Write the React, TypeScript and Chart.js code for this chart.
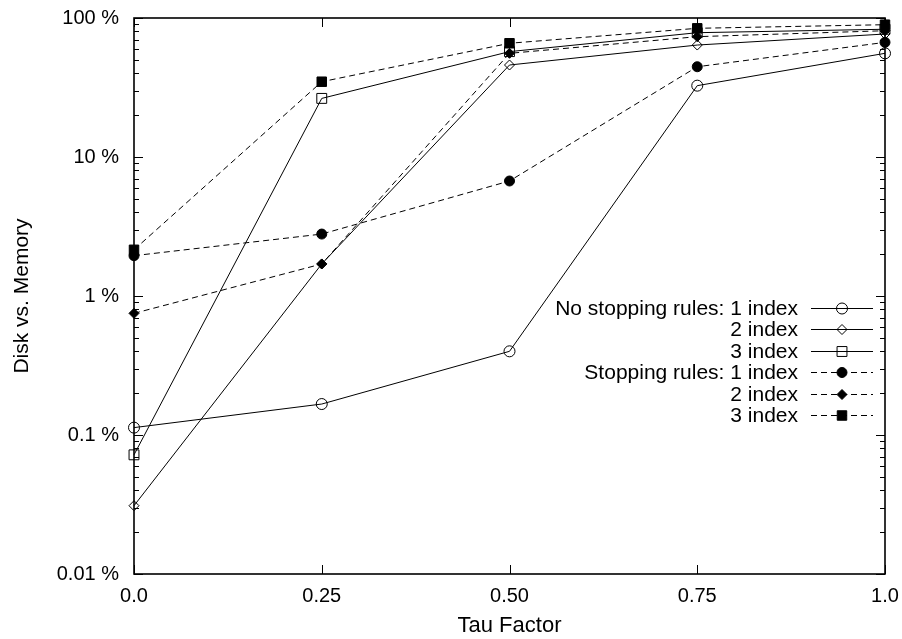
import React, { useEffect, useRef } from 'react';
import { Chart, registerables } from 'chart.js';
import { drawPoint } from 'chart.js/helpers';

Chart.register(...registerables);

// ---- data ----
const tauFactor = [0, 0.25, 0.5, 0.75, 1.0];
const noStop1 = [0.113, 0.167, 0.4, 32.6, 55.7];
const noStop2 = [0.031, 1.7, 45.9, 63.9, 76.7];
const noStop3 = [0.072, 26.4, 57.3, 78.4, 83.0];
const stop1 = [1.95, 2.79, 6.72, 44.6, 66.8];
const stop2 = [0.75, 1.7, 55.7, 73.4, 81.0];
const stop3 = [2.15, 34.8, 65.8, 84.3, 89.5];

const legendLabels = [
  'No stopping rules: 1 index',
  '2 index',
  '3 index',
  'Stopping rules: 1 index',
  '2 index',
  '3 index',
];
const xTickValues = [0, 0.25, 0.5, 0.75, 1.0];
const xTickLabels = ['0.0', '0.25', '0.50', '0.75', '1.0'];
const yTickValues = [0.01, 0.1, 1, 10, 100];
const yTickLabels = ['0.01 %', '0.1 %', '1 %', '10 %', '100 %'];
const xTitle = 'Tau Factor';
const yTitle = 'Disk vs. Memory';

const FONT = "'Liberation Sans', Arial, Helvetica, sans-serif";
const DASH = [6, 4];
const CLEAR = 'rgba(0,0,0,0)';

function yMinorTicks(): number[] {
  const out: number[] = [];
  for (let d = 0; d < yTickValues.length - 1; d++) {
    for (let k = 1; k <= 9; k++) out.push(+(k * yTickValues[d]).toPrecision(4));
  }
  out.push(yTickValues[yTickValues.length - 1]);
  return out;
}

function isMajorY(v: number) {
  return yTickValues.some((t) => Math.abs(t - v) / t < 1e-6);
}

const frameAndLegend = {
  id: 'frameAndLegend',
  beforeDatasetsDraw(chart: any) {
    const { ctx, chartArea: a, scales } = chart;
    ctx.save();
    ctx.strokeStyle = '#000';
    ctx.lineWidth = 1;
    const seg = (x1: number, y1: number, x2: number, y2: number) => {
      ctx.beginPath();
      ctx.moveTo(x1, y1);
      ctx.lineTo(x2, y2);
      ctx.stroke();
    };
    const y = scales.y;
    y.ticks.forEach((t: any) => {
      const py = Math.round(y.getPixelForValue(t.value)) + 0.5;
      const len = isMajorY(t.value) ? 9 : 5;
      seg(a.left, py, a.left + len, py);
      seg(a.right, py, a.right - len, py);
    });
    const x = scales.x;
    x.ticks.forEach((t: any) => {
      const px = Math.round(x.getPixelForValue(t.value)) + 0.5;
      seg(px, a.bottom, px, a.bottom - 9);
      seg(px, a.top, px, a.top + 9);
    });
    ctx.lineWidth = 1.6;
    ctx.strokeRect(a.left, a.top, a.right - a.left, a.bottom - a.top);
    ctx.restore();
  },
  afterDraw(chart: any) {
    const { ctx } = chart;
    const textRight = 798;
    const lineX1 = 811;
    const lineX2 = 873;
    const markX = 842;
    const top = 307.5;
    const step = 21.5;
    ctx.save();
    ctx.font = `21px ${FONT}`;
    ctx.textAlign = 'right';
    ctx.textBaseline = 'middle';
    chart.data.datasets.forEach((ds: any, i: number) => {
      const yy = Math.round(top + i * step) + 0.5;
      ctx.fillStyle = '#000';
      ctx.fillText(legendLabels[i], textRight, yy + 1);
      ctx.strokeStyle = '#000';
      ctx.lineWidth = 1;
      ctx.setLineDash(ds.borderDash || []);
      ctx.beginPath();
      ctx.moveTo(lineX1, yy);
      ctx.lineTo(lineX2, yy);
      ctx.stroke();
      ctx.setLineDash([]);
      ctx.fillStyle = ds.pointBackgroundColor;
      ctx.strokeStyle = '#000';
      ctx.lineWidth = 1;
      drawPoint(ctx, { pointStyle: ds.pointStyle, radius: ds.pointRadius, rotation: 0, borderWidth: 1 } as any, markX, yy);
    });
    ctx.restore();
  },
};

function mk(label: string, data: number[], dashed: boolean, style: string, radius: number, filled: boolean) {
  return {
    label,
    data: tauFactor.map((x, i) => ({ x, y: data[i] })),
    borderColor: '#000',
    borderWidth: 1,
    borderDash: dashed ? DASH : [],
    pointStyle: style,
    pointRadius: radius,
    pointBorderWidth: 1,
    pointBorderColor: '#000',
    pointBackgroundColor: filled ? '#000' : CLEAR,
    backgroundColor: filled ? '#000' : CLEAR,
    tension: 0,
    fill: false,
    clip: false as any,
  };
}

export default function App() {
  const ref = useRef<HTMLCanvasElement>(null);
  useEffect(() => {
    document.body.style.margin = '0';
    const chart = new Chart(ref.current as HTMLCanvasElement, {
      type: 'line',
      data: {
        datasets: [
          mk(legendLabels[0], noStop1, false, 'circle', 5.5, false),
          mk(legendLabels[1], noStop2, false, 'rectRot', 5, false),
          mk(legendLabels[2], noStop3, false, 'rect', 7, false),
          mk(legendLabels[3], stop1, true, 'circle', 5, true),
          mk(legendLabels[4], stop2, true, 'rectRot', 5, true),
          mk(legendLabels[5], stop3, true, 'rect', 6.7, true),
        ] as any,
      },
      options: {
        responsive: false,
        devicePixelRatio: 1,
        animation: false,
        layout: { padding: { top: 18, right: 17, left: 0, bottom: 0 } },
        plugins: { legend: { display: false }, tooltip: { enabled: false } },
        scales: {
          x: {
            type: 'linear',
            min: 0,
            max: 1,
            grid: { display: false, drawTicks: false },
            border: { display: false },
            afterBuildTicks: (s: any) => {
              s.ticks = xTickValues.map((v) => ({ value: v }));
            },
            afterFit: (s: any) => {
              s.height = 65;
              s.paddingLeft = 0;
              s.paddingRight = 0;
            },
            ticks: {
              autoSkip: false,
              maxRotation: 0,
              padding: 10,
              color: '#000',
              font: { size: 20, family: FONT },
              callback: (v: any) => {
                const i = xTickValues.findIndex((t) => Math.abs(t - Number(v)) < 1e-9);
                return i >= 0 ? xTickLabels[i] : '';
              },
            },
            title: {
              display: true,
              text: xTitle,
              color: '#000',
              font: { size: 22, family: FONT, lineHeight: 1.2 },
              padding: { top: 0, bottom: 0 },
            },
          },
          y: {
            type: 'logarithmic',
            min: 0.01,
            max: 100,
            grid: { display: false, drawTicks: false },
            border: { display: false },
            afterBuildTicks: (s: any) => {
              s.ticks = yMinorTicks().map((v) => ({ value: v }));
            },
            afterFit: (s: any) => {
              s.width = 134;
              s.paddingTop = 0;
              s.paddingBottom = 0;
            },
            ticks: {
              autoSkip: false,
              padding: 15,
              color: '#000',
              font: { size: 20, family: FONT },
              callback: (v: any) => {
                const n = Number(v);
                const i = yTickValues.findIndex((t) => Math.abs(t - n) / t < 1e-6);
                return i >= 0 ? yTickLabels[i] : '';
              },
            },
            title: {
              display: true,
              text: yTitle,
              color: '#000',
              font: { size: 21, family: FONT, lineHeight: 1.2 },
              padding: { top: 10, bottom: 0 },
            },
          },
        },
      } as any,
      plugins: [frameAndLegend],
    });
    return () => chart.destroy();
  }, []);
  return (
    <div style={{ position: 'fixed', left: 0, top: 0, width: 902, height: 639, background: '#fff' }}>
      <canvas ref={ref} width={902} height={639} style={{ display: 'block' }} />
    </div>
  );
}
